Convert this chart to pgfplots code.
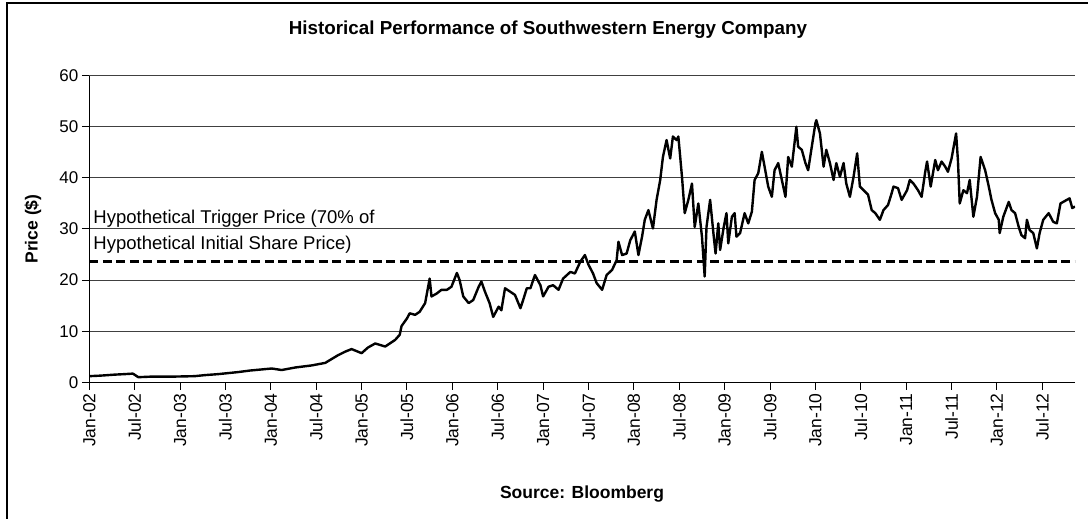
\documentclass[border=0pt]{standalone}
\usepackage{pgfplots}
\pgfplotsset{compat=1.18}
\usepackage{pgfplotstable}
\usepackage{fontspec}
\setmainfont{Liberation Sans}
\pgfplotstableread{
x y
2002.00 1.2
2002.12 1.3
2002.28 1.5
2002.39 1.6
2002.48 1.7
2002.54 1.0
2002.67 1.1
2002.89 1.1
2003.16 1.2
2003.27 1.4
2003.42 1.6
2003.64 2.0
2003.77 2.3
2004.01 2.7
2004.12 2.4
2004.27 2.9
2004.45 3.3
2004.60 3.8
2004.74 5.3
2004.82 6.0
2004.89 6.5
2005.00 5.7
2005.07 6.8
2005.15 7.6
2005.26 7.0
2005.37 8.3
2005.42 9.3
2005.44 11.0
2005.50 12.5
2005.53 13.5
2005.59 13.2
2005.64 13.8
2005.70 15.5
2005.75 20.3
2005.77 16.8
2005.83 17.4
2005.88 18.1
2005.94 18.1
2005.99 18.7
2006.05 21.4
2006.08 20.0
2006.12 16.8
2006.18 15.5
2006.23 16.1
2006.29 18.7
2006.32 19.7
2006.36 17.7
2006.41 15.5
2006.45 12.8
2006.51 14.8
2006.54 14.1
2006.58 18.4
2006.64 17.7
2006.69 17.1
2006.75 14.5
2006.78 16.1
2006.82 18.4
2006.86 18.4
2006.91 21.0
2006.97 19.0
2007.00 16.8
2007.06 18.7
2007.11 19.0
2007.17 18.1
2007.22 20.3
2007.30 21.6
2007.35 21.3
2007.41 23.6
2007.46 24.9
2007.50 23.0
2007.55 21.3
2007.59 19.4
2007.65 18.1
2007.70 21.0
2007.76 22.0
2007.81 23.9
2007.83 27.5
2007.87 24.9
2007.92 25.2
2007.96 27.8
2008.01 29.5
2008.05 24.9
2008.09 28.5
2008.12 31.8
2008.16 33.7
2008.21 30.1
2008.25 35.7
2008.29 39.6
2008.32 44.1
2008.36 47.4
2008.40 43.8
2008.43 48.1
2008.47 47.4
2008.49 48.1
2008.53 40.2
2008.56 33.1
2008.60 35.7
2008.64 38.9
2008.67 30.4
2008.71 35.0
2008.75 28.5
2008.78 20.7
2008.80 30.4
2008.84 35.7
2008.88 28.5
2008.90 25.2
2008.93 31.1
2008.95 25.9
2008.99 30.4
2009.02 33.1
2009.04 27.2
2009.08 32.4
2009.11 33.1
2009.13 28.5
2009.17 29.2
2009.22 33.1
2009.26 31.1
2009.30 33.4
2009.33 39.6
2009.37 40.9
2009.41 45.1
2009.44 42.2
2009.48 38.3
2009.52 36.3
2009.55 41.5
2009.59 42.9
2009.63 39.6
2009.67 36.3
2009.70 44.1
2009.74 42.2
2009.79 50.0
2009.81 46.1
2009.85 45.5
2009.89 42.9
2009.92 41.5
2009.96 46.1
2010.00 50.7
2010.01 51.3
2010.05 48.7
2010.09 42.2
2010.12 45.5
2010.16 42.9
2010.20 39.6
2010.23 42.9
2010.27 40.2
2010.31 42.9
2010.34 38.9
2010.38 36.3
2010.42 40.2
2010.46 44.8
2010.49 38.3
2010.53 37.6
2010.58 36.7
2010.62 33.7
2010.66 33.1
2010.71 31.8
2010.75 33.7
2010.80 34.7
2010.84 37.0
2010.86 38.3
2010.91 38.0
2010.95 35.7
2011.01 37.6
2011.04 39.6
2011.08 38.9
2011.13 37.6
2011.17 36.3
2011.21 41.2
2011.23 43.2
2011.27 38.3
2011.32 43.5
2011.35 41.5
2011.39 43.2
2011.43 42.2
2011.46 41.2
2011.50 43.8
2011.55 48.7
2011.57 43.5
2011.59 35.0
2011.63 37.6
2011.67 37.0
2011.70 39.6
2011.74 32.4
2011.78 36.3
2011.82 44.1
2011.87 41.5
2011.91 38.3
2011.94 35.7
2011.98 33.1
2012.02 31.8
2012.03 29.2
2012.07 32.4
2012.13 35.3
2012.16 33.7
2012.20 33.1
2012.24 30.4
2012.27 28.8
2012.31 28.2
2012.33 31.8
2012.36 29.8
2012.40 29.2
2012.44 26.2
2012.47 29.2
2012.51 31.8
2012.57 33.1
2012.62 31.4
2012.66 31.1
2012.70 35.0
2012.73 35.3
2012.77 35.7
2012.80 36.0
2012.83 34.1
2012.86 34.4
}\pricedata
\begin{document}
\begin{tikzpicture}[x=1pt,y=1pt]
\useasboundingbox (0,0) rectangle (1088,519);
\fill[white] (0,0) rectangle (1088,519);
\draw[line width=1.5pt] (7,-5) -- (7,516) -- (1095,516);
\begin{axis}[
  at={(89.3pt,136.7pt)}, anchor=south west,
  scale only axis, width=985.7pt, height=306.6pt,
  xmin=2002, xmax=2012.86, ymin=0, ymax=60,
  axis lines=left, axis line style={-, line width=1.2pt, black},
  ytick={0,10,20,30,40,50,60},
  ymajorgrids, grid style={black!75, line width=1pt},
  xtick={2002,2002.5,2003,2003.5,2004,2004.5,2005,2005.5,2006,2006.5,2007,2007.5,2008,2008.5,2009,2009.5,2010,2010.5,2011,2011.5,2012,2012.5},
  xticklabels={Jan-02,Jul-02,Jan-03,Jul-03,Jan-04,Jul-04,Jan-05,Jul-05,Jan-06,Jul-06,Jan-07,Jul-07,Jan-08,Jul-08,Jan-09,Jul-09,Jan-10,Jul-10,Jan-11,Jul-11,Jan-12,Jul-12},
  tick align=outside, major tick length=7.5pt, tick style={black, line width=1pt},
  /pgf/number format/assume math mode=true,
  xticklabel style={rotate=90, anchor=east, font=\fontsize{17.5}{17.5}\selectfont},
  yticklabel style={font=\fontsize{17}{17}\selectfont},
]
\addplot[line width=2.8pt, dash pattern=on 9pt off 4.5pt] coordinates {(2002,23.6) (2012.86,23.6)};
\addplot[line width=2.4pt, line join=round, black] table[x=x,y=y] {\pricedata};
\node[anchor=base west, inner sep=0pt, font=\fontsize{18.5}{18.5}\selectfont] at (axis cs:2002.044,31.1) {Hypothetical Trigger Price (70\% of};
\node[anchor=base west, inner sep=0pt, font=\fontsize{18.5}{18.5}\selectfont] at (axis cs:2002.044,25.9) {Hypothetical Initial Share Price)};
\end{axis}
\node[font=\bfseries\fontsize{18.8}{18.8}\selectfont] at (548,489) {Historical Performance of Southwestern Energy Company};
\node[rotate=90, font=\bfseries\fontsize{17.5}{17.5}\selectfont] at (33,290) {Price (\$)};
\node[font=\bfseries\fontsize{17.5}{17.5}\selectfont] at (582,25) {Source: Bloomberg};
\end{tikzpicture}
\end{document}
